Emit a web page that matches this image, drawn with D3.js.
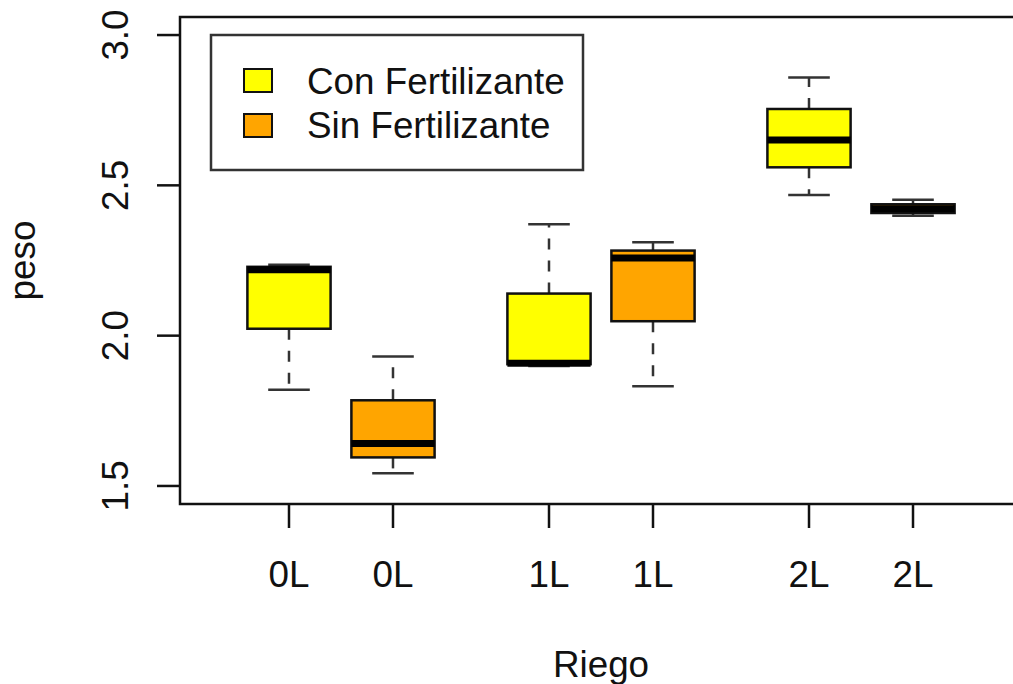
<!DOCTYPE html>
<html>
<head>
<meta charset="utf-8">
<script src="https://cdn.jsdelivr.net/npm/d3@7"></script>
<style>
  body { margin: 0; background: #fff; }
  svg { display: block; font-family: "Liberation Sans", Arial, sans-serif; }
</style>
</head>
<body>
<svg id="chart"></svg>
<script>
// box stats, one entry per box
const groups = ["0L", "0L", "1L", "1L", "2L", "2L"];
const positions = [1, 2, 3.5, 4.5, 6, 7];
const treatment = ["Con", "Sin", "Con", "Sin", "Con", "Sin"];
const lowerWhisker = [1.82, 1.542, 1.899, 1.832, 2.468, 2.399];
const lowerHinge = [2.023, 1.595, 1.905, 2.048, 2.560, 2.408];
const medians = [2.219, 1.641, 1.908, 2.258, 2.651, 2.422];
const upperHinge = [2.229, 1.785, 2.140, 2.283, 2.754, 2.437];
const upperWhisker = [2.236, 1.931, 2.371, 2.311, 2.859, 2.452];

const yTicks = [1.5, 2.0, 2.5, 3.0];
const yTickLabels = ["1.5", "2.0", "2.5", "3.0"];
const legendLabels = ["Con Fertilizante", "Sin Fertilizante"];
const legendKeys = ["Con", "Sin"];

const colors = { Con: "#ffff00", Sin: "#ffa500" };

var w = 1013;
var h = 684;
let plot = ({ left: 180, top: 17, right: 1022, bottom: 504 });
const fontSize = "36.8px";

var xScale = d3.scaleLinear()
    .domain([-0.048, 8.048])
    .range([plot.left, plot.right]);

var yScale = d3.scaleLinear()
    .domain([1.44, 3.06])
    .range([plot.bottom, plot.top]);

const boxHalf = (xScale(1.4) - xScale(1)); // boxwex 0.8
const capHalf = boxHalf / 2;

const boxes = groups.map((g, i) => ({
    group: g,
    pos: positions[i],
    key: treatment[i],
    lw: lowerWhisker[i],
    lh: lowerHinge[i],
    med: medians[i],
    uh: upperHinge[i],
    uw: upperWhisker[i]
}));

var svg = d3.select("#chart")
    .attr("width", w)
    .attr("height", h);

svg.append("rect").attr("width", w).attr("height", h).attr("fill", "#fff");

const chart = svg.append("g");

const box = chart.selectAll("g.box")
    .data(boxes)
    .join("g")
    .attr("class", "box");

// whiskers
box.append("line")
    .attr("x1", d => xScale(d.pos)).attr("x2", d => xScale(d.pos))
    .attr("y1", d => yScale(d.uh)).attr("y2", d => yScale(d.uw))
    .attr("stroke", "#333").attr("stroke-width", 2.5)
    .attr("stroke-dasharray", "11,11");
box.append("line")
    .attr("x1", d => xScale(d.pos)).attr("x2", d => xScale(d.pos))
    .attr("y1", d => yScale(d.lh)).attr("y2", d => yScale(d.lw))
    .attr("stroke", "#333").attr("stroke-width", 2.5)
    .attr("stroke-dasharray", "11,11");

// caps
box.append("line")
    .attr("x1", d => xScale(d.pos) - capHalf).attr("x2", d => xScale(d.pos) + capHalf)
    .attr("y1", d => yScale(d.uw)).attr("y2", d => yScale(d.uw))
    .attr("stroke", "#333").attr("stroke-width", 2.5);
box.append("line")
    .attr("x1", d => xScale(d.pos) - capHalf).attr("x2", d => xScale(d.pos) + capHalf)
    .attr("y1", d => yScale(d.lw)).attr("y2", d => yScale(d.lw))
    .attr("stroke", "#333").attr("stroke-width", 2.5);

// boxes
box.append("rect")
    .attr("x", d => xScale(d.pos) - boxHalf)
    .attr("y", d => yScale(d.uh))
    .attr("width", boxHalf * 2)
    .attr("height", d => yScale(d.lh) - yScale(d.uh))
    .attr("fill", d => colors[d.key])
    .attr("stroke", "#111").attr("stroke-width", 2.5);

// medians
box.append("line")
    .attr("x1", d => xScale(d.pos) - boxHalf).attr("x2", d => xScale(d.pos) + boxHalf)
    .attr("y1", d => yScale(d.med)).attr("y2", d => yScale(d.med))
    .attr("stroke", "#000").attr("stroke-width", 7);

// frame
chart.append("rect")
    .attr("x", plot.left).attr("y", plot.top)
    .attr("width", plot.right - plot.left)
    .attr("height", plot.bottom - plot.top)
    .attr("fill", "none").attr("stroke", "#111").attr("stroke-width", 2.5);

// y axis
const yAxis = chart.append("g");
yAxis.selectAll("line")
    .data(yTicks)
    .join("line")
    .attr("x1", plot.left - 23).attr("x2", plot.left)
    .attr("y1", d => yScale(d)).attr("y2", d => yScale(d))
    .attr("stroke", "#111").attr("stroke-width", 2.5);
yAxis.selectAll("text")
    .data(yTicks)
    .join("text")
    .attr("transform", d => `translate(128,${yScale(d)}) rotate(-90)`)
    .attr("text-anchor", "middle")
    .style("font-size", fontSize)
    .attr("fill", "#111")
    .text((d, i) => yTickLabels[i]);

// x axis
const xAxis = chart.append("g");
xAxis.selectAll("line")
    .data(boxes)
    .join("line")
    .attr("x1", d => xScale(d.pos)).attr("x2", d => xScale(d.pos))
    .attr("y1", plot.bottom).attr("y2", plot.bottom + 24)
    .attr("stroke", "#111").attr("stroke-width", 2.5);
xAxis.selectAll("text")
    .data(boxes)
    .join("text")
    .attr("x", d => xScale(d.pos))
    .attr("y", 587)
    .attr("text-anchor", "middle")
    .style("font-size", fontSize)
    .attr("fill", "#111")
    .text(d => d.group);

// axis titles
chart.append("text")
    .attr("x", (plot.left + plot.right) / 2)
    .attr("y", 677)
    .attr("text-anchor", "middle")
    .style("font-size", fontSize)
    .attr("fill", "#111")
    .text("Riego");

chart.append("text")
    .attr("transform", `translate(35,${(plot.top + plot.bottom) / 2}) rotate(-90)`)
    .attr("text-anchor", "middle")
    .style("font-size", fontSize)
    .attr("fill", "#111")
    .text("peso");

// legend
const legend = chart.append("g");
legend.append("rect")
    .attr("x", 211).attr("y", 35)
    .attr("width", 372).attr("height", 135)
    .attr("fill", "#fff").attr("stroke", "#333").attr("stroke-width", 2.5);

legend.selectAll("rect.key")
    .data(legendKeys)
    .join("rect")
    .attr("class", "key")
    .attr("x", 244)
    .attr("y", (d, i) => 69 + i * 45)
    .attr("width", 28).attr("height", 23)
    .attr("fill", d => colors[d])
    .attr("stroke", "#111").attr("stroke-width", 2);

legend.selectAll("text")
    .data(legendLabels)
    .join("text")
    .attr("x", 307)
    .attr("y", (d, i) => 94 + i * 44)
    .style("font-size", fontSize)
    .attr("fill", "#111")
    .text(d => d);
</script>
</body>
</html>
